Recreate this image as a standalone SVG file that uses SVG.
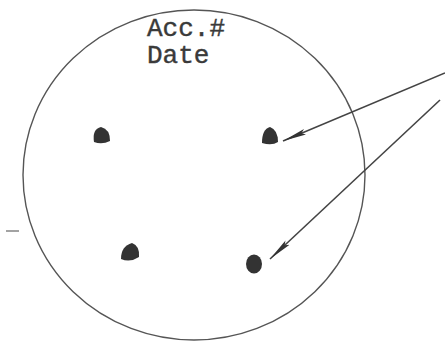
<svg xmlns="http://www.w3.org/2000/svg" width="445" height="345" viewBox="0 0 445 345">
<defs>
<style>
.outline{fill:none;stroke:#555;stroke-width:1.4}
.conn{fill:none;stroke:#444;stroke-width:1.6}
.dot{fill:#333}
.lbl{font-family:"Liberation Mono","Courier New",monospace;font-size:26px;fill:#3a3a3a;stroke:#3a3a3a;stroke-width:0.4}
</style>
<marker id="ah" markerUnits="userSpaceOnUse" markerWidth="26" markerHeight="10" refX="24" refY="4" orient="auto">
<path d="M0,1 L24,4 L0,7 L4,4 Z" fill="#333"/>
</marker>
</defs>
<rect width="445" height="345" fill="#fff"/>
<g id="plate">
<ellipse class="outline" cx="194" cy="175" rx="171" ry="165"/>
<text class="lbl" x="147" y="36">Acc.#</text>
<text class="lbl" x="147" y="63">Date</text>
</g>
<g id="dot1"><path class="dot" d="M94,142 Q92,129 101,127 Q110,129 110,141 Q102,145 94,142 Z"/></g>
<g id="dot2"><path class="dot" d="M262,143 Q262,129 270,127 Q278,130 278,142 Q272,146 262,143 Z"/></g>
<g id="dot3"><path class="dot" d="M121,259 Q121,246 132,243 Q140,246 139,257 Q130,263 121,259 Z"/></g>
<g id="dot4"><ellipse class="dot" cx="254" cy="264" rx="8" ry="9.5"/></g>
<g id="tick"><line x1="6" y1="231" x2="19" y2="231" stroke="#666" stroke-width="1.2"/></g>
<g id="connectors">
<line class="conn" x1="445" y1="73" x2="283" y2="141" marker-end="url(#ah)"/>
<line class="conn" x1="440" y1="100" x2="270" y2="259" marker-end="url(#ah)"/>
</g>
</svg>
